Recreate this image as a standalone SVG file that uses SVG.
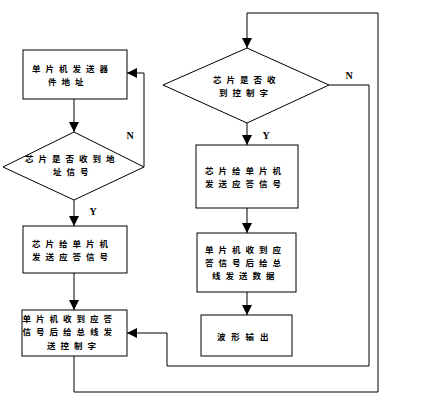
<svg xmlns="http://www.w3.org/2000/svg" width="428" height="404" viewBox="0 0 428 404">
<style>
.box{fill:#fff;stroke:#000;stroke-width:1}
.ln{fill:none;stroke:#000;stroke-width:1}
.t{font-family:"Noto Sans CJK SC","Noto Sans CJK JP",sans-serif;font-size:8.5px;font-weight:bold;letter-spacing:5px;fill:#000}
.yn{font-family:"Liberation Serif",serif;font-size:10px;font-weight:bold;fill:#000;text-anchor:middle}
</style>
<defs>
<marker id="ah" viewBox="0 0 10 10" refX="10" refY="5" markerWidth="10" markerHeight="10" markerUnits="userSpaceOnUse" orient="auto">
<path d="M0,0 L10,5 L0,10 z" fill="#000"/>
</marker>
</defs>
<rect width="428" height="404" fill="#fff"/>
<g id="connectors">
<path class="ln" d="M74,99 V132" marker-end="url(#ah)"/>
<path class="ln" d="M144,167 V73 H127" marker-end="url(#ah)"/>
<path class="ln" d="M74,200 V226" marker-end="url(#ah)"/>
<path class="ln" d="M74,273 V310" marker-end="url(#ah)"/>
<path class="ln" d="M74,356 V392 H378 V13 H247 V48" marker-end="url(#ah)"/>
<path class="ln" d="M329,85 H369 V366 H167 V333 H127" marker-end="url(#ah)"/>
<path class="ln" d="M247,123 V145" marker-end="url(#ah)"/>
<path class="ln" d="M247,208 V233" marker-end="url(#ah)"/>
<path class="ln" d="M247,292 V315" marker-end="url(#ah)"/>
<text class="yn" x="130" y="139">N</text>
<text class="yn" x="93" y="215">Y</text>
<text class="yn" x="349" y="79">N</text>
<text class="yn" x="266" y="139">Y</text>
</g>
<g id="n1">
<rect class="box" x="23" y="50" width="104" height="49"/>
<text class="t" x="32" y="71.5">单片机发送器</text>
<text class="t" x="48" y="84.5">件地址</text>
</g>
<g id="d1">
<polygon class="box" points="74,132 144,167 74,200 3,167"/>
<text class="t" x="25" y="162">芯片是否收到地</text>
<text class="t" x="53" y="175">址信号</text>
</g>
<g id="n2">
<rect class="box" x="23" y="226" width="104" height="47"/>
<text class="t" x="32" y="246.5">芯片给单片机</text>
<text class="t" x="32" y="259.5">发送应答信号</text>
</g>
<g id="n3">
<rect class="box" x="22" y="310" width="105" height="46"/>
<text class="t" x="22.5" y="321.5">单片机收到应答</text>
<text class="t" x="22.5" y="335">信号后给总线发</text>
<text class="t" x="47" y="348.5">送控制字</text>
</g>
<g id="d2">
<polygon class="box" points="247,48 329,85 247,123 163,85"/>
<text class="t" x="213" y="82.5">芯片是否收</text>
<text class="t" x="219" y="95.5">到控制字</text>
</g>
<g id="n4">
<rect class="box" x="196" y="145" width="102" height="63"/>
<text class="t" x="205" y="174">芯片给单片机</text>
<text class="t" x="205" y="187">发送应答信号</text>
</g>
<g id="n5">
<rect class="box" x="197" y="233" width="99" height="59"/>
<text class="t" x="205" y="252.5">单片机收到应</text>
<text class="t" x="205" y="265.5">答信号后给总</text>
<text class="t" x="212" y="278.5">线发送数据</text>
</g>
<g id="n6">
<rect class="box" x="201" y="315" width="91" height="41"/>
<text class="t" x="217" y="340" style="letter-spacing:5.8px">波形输出</text>
</g>
</svg>
